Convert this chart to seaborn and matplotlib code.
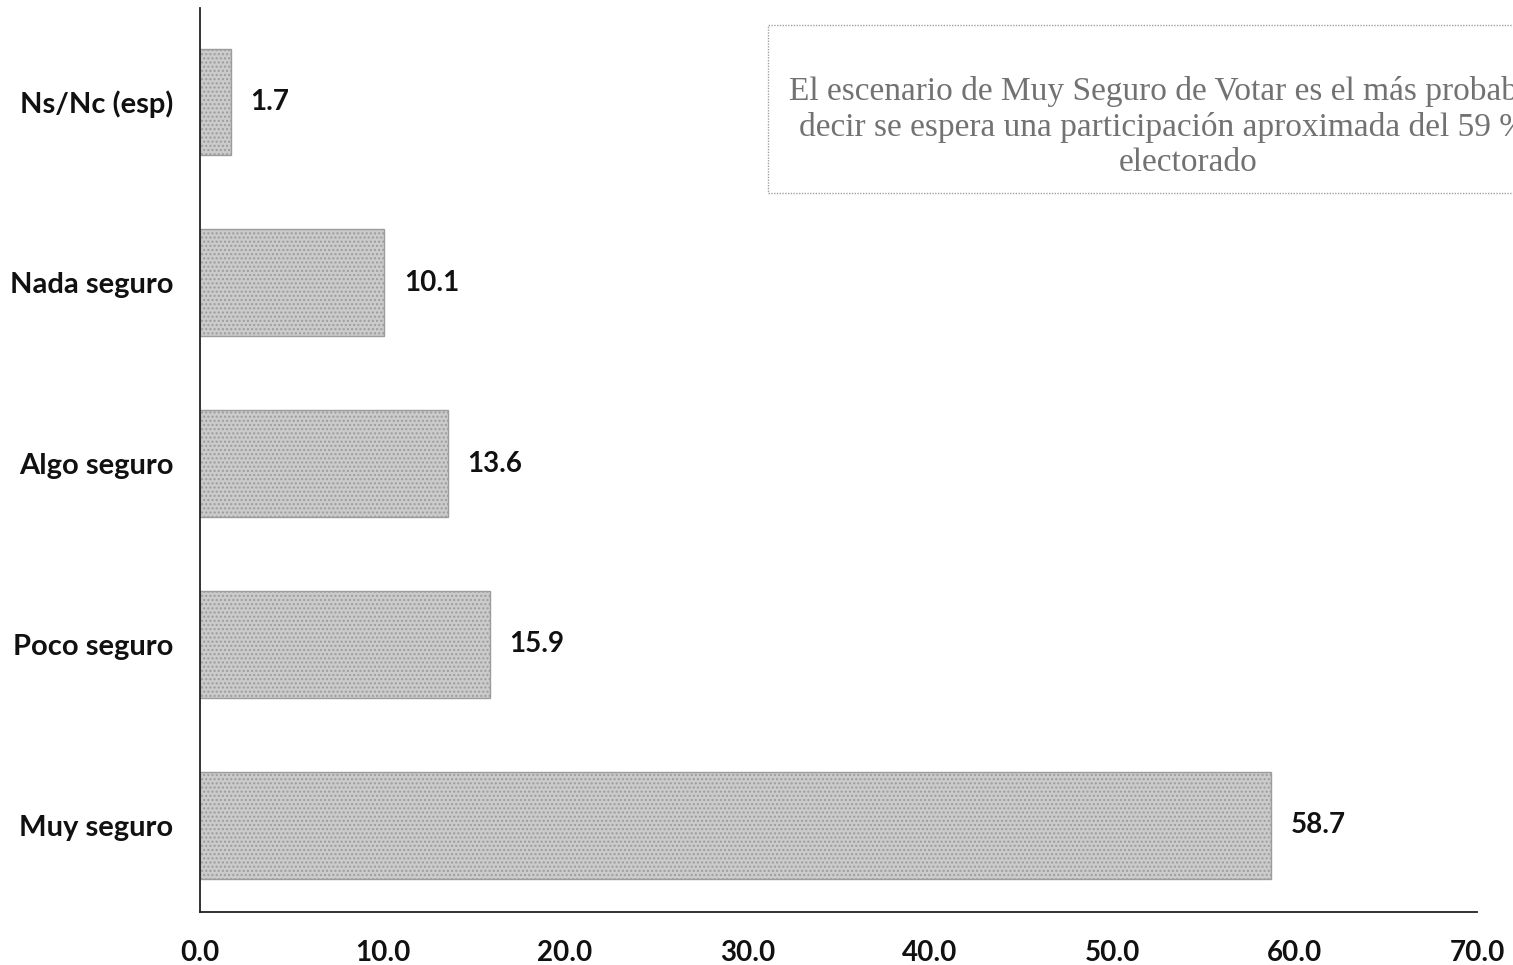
import matplotlib
matplotlib.use("Agg")
import matplotlib.pyplot as plt
import matplotlib.patches as patches
import seaborn as sns
import pandas as pd

# ==============================
# DATA
# ==============================
categories = ["Ns/Nc (esp)", "Nada seguro", "Algo seguro", "Poco seguro", "Muy seguro"]
values = [1.7, 10.1, 13.6, 15.9, 58.7]
xticks = [0, 10, 20, 30, 40, 50, 60, 70]
note_text = ("El escenario de Muy Seguro de Votar es el más probable, es\n"
             "decir se espera una participación aproximada del 59 % del\n"
             "electorado")

df = pd.DataFrame({"categoria": categories, "valor": values})

sns.set_theme(style="white")
plt.rcParams["font.family"] = ["Lato", "DejaVu Sans"]
plt.rcParams["hatch.color"] = "#a8a8a8"

fig = plt.figure(figsize=(15.13, 9.65), dpi=100)
ax = fig.add_axes([200 / 1513, 1 - 912 / 965, 1277 / 1513, 904 / 965])

sns.barplot(data=df, x="valor", y="categoria", orient="h", order=categories,
            color="#cbcbcb", width=0.59, ax=ax, saturation=1)
for bar in ax.patches:
    bar.set_edgecolor("#9c9c9c")
    bar.set_hatch("....")
    bar.set_linewidth(1.0)

ax.bar_label(ax.containers[0], labels=[f"{v:.1f}" for v in values],
             padding=14, fontsize=20, fontweight="bold", color="#111111")

ax.set_xlim(0, 70)
ax.set_ylim(4.48, -0.52)
ax.set_xticks(xticks)
ax.set_xticklabels([f"{t:.1f}" for t in xticks], fontsize=20, fontweight="bold")
ax.set_yticklabels(categories, fontsize=21, fontweight="bold")
ax.tick_params(axis="x", length=0, pad=20, colors="#111111")
ax.tick_params(axis="y", length=0, pad=19, colors="#111111")
ax.set_xlabel("")
ax.set_ylabel("")

for side in ["top", "right"]:
    ax.spines[side].set_visible(False)
for side in ["left", "bottom"]:
    ax.spines[side].set_color("#222222")
    ax.spines[side].set_linewidth(1.3)

# note box in the upper right, running off the edge like the scan
box = patches.Rectangle((768 / 1513, 1 - 193 / 965), 840 / 1513, 168 / 965,
                        transform=fig.transFigure, facecolor="none",
                        edgecolor="#a0a0a0", linewidth=1.0, linestyle=(0, (1, 1)))
fig.patches.append(box)
fig.text(1188 / 1513, 1 - 127 / 965, note_text, ha="center", va="center",
         fontsize=24, family="Liberation Serif", color="#727272", linespacing=1.2)

fig.savefig("out.png", dpi=100)
